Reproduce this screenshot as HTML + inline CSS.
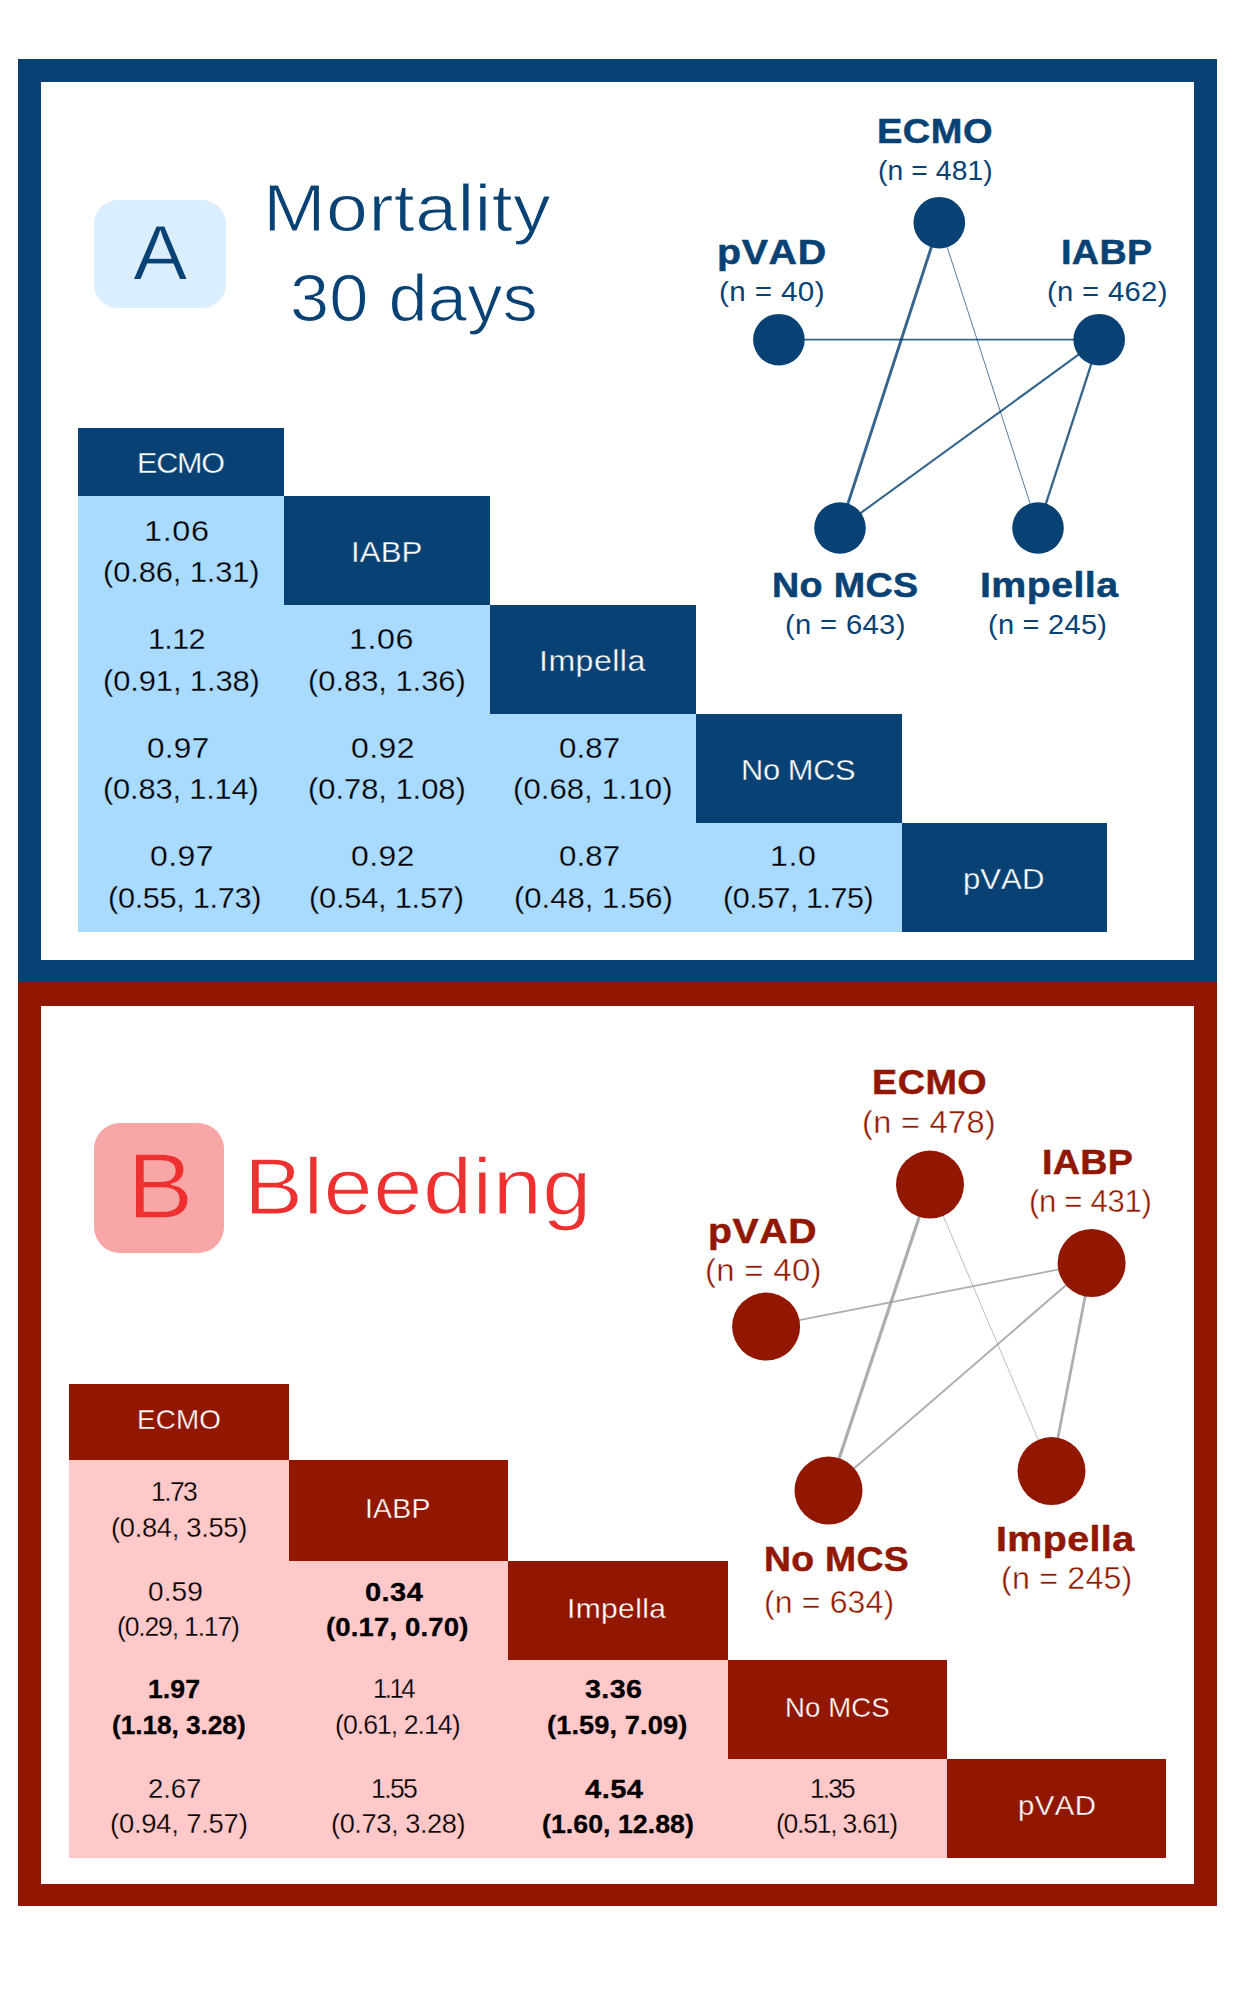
<!DOCTYPE html>
<html lang="en"><head><meta charset="utf-8"><title>Network meta-analysis: mortality and bleeding</title>
<style>
html,body{margin:0;padding:0;background:#fff}
body{width:1235px;height:2000px;position:relative;overflow:hidden;font-family:"Liberation Sans",sans-serif}
.r{position:absolute}
.t{position:absolute;white-space:nowrap;transform-origin:0 0;font-family:"Liberation Sans",sans-serif;font-kerning:none}
svg{position:absolute;left:0;top:0}
</style></head><body>
<!-- panel A frame -->
<div class="r" style="left:18px;top:59px;width:1199.00px;height:923.00px;background:#084274;"></div>
<div class="r" style="left:41px;top:82px;width:1153.00px;height:878.00px;background:#fff;"></div>
<!-- panel B frame -->
<div class="r" style="left:18px;top:982px;width:1199.00px;height:924.00px;background:#911700;"></div>
<div class="r" style="left:41px;top:1006px;width:1153.00px;height:878.00px;background:#fff;"></div>
<div class="r" style="left:94px;top:200px;width:132.00px;height:108.00px;background:#DBEEFE;border-radius:24px"></div>
<div class="r" style="left:94px;top:1123px;width:130.00px;height:130.00px;background:#F9A6A6;border-radius:26px"></div>
<!-- table A -->
<div class="r" style="left:78px;top:496px;width:824.00px;height:436.00px;background:#A9DAFF;"></div>
<div class="r" style="left:78px;top:428px;width:206.00px;height:68.00px;background:#084274;"></div>
<div class="r" style="left:284px;top:496px;width:206.00px;height:109.00px;background:#084274;"></div>
<div class="r" style="left:490px;top:605px;width:206.00px;height:109.00px;background:#084274;"></div>
<div class="r" style="left:696px;top:714px;width:206.00px;height:109.00px;background:#084274;"></div>
<div class="r" style="left:902px;top:823px;width:205.00px;height:109.00px;background:#084274;"></div>
<!-- table B -->
<div class="r" style="left:69px;top:1460px;width:878.00px;height:398.00px;background:#FFC9C9;"></div>
<div class="r" style="left:69px;top:1384px;width:220.00px;height:76.00px;background:#911700;"></div>
<div class="r" style="left:289px;top:1460px;width:219.00px;height:101.00px;background:#911700;"></div>
<div class="r" style="left:508px;top:1561px;width:220.00px;height:99.00px;background:#911700;"></div>
<div class="r" style="left:728px;top:1660px;width:219.00px;height:99.00px;background:#911700;"></div>
<div class="r" style="left:947px;top:1759px;width:219.00px;height:99.00px;background:#911700;"></div>
<div class="r" style="left:490px;top:496px;width:412.00px;height:109.00px;background:#fff;"></div>
<div class="r" style="left:696px;top:605px;width:206.00px;height:109.00px;background:#fff;"></div>
<div class="r" style="left:902px;top:714px;width:0.00px;height:109.00px;background:#fff;"></div>
<div class="r" style="left:508px;top:1460px;width:439.00px;height:101.00px;background:#fff;"></div>
<div class="r" style="left:728px;top:1561px;width:219.00px;height:99.00px;background:#fff;"></div>
<div class="r" style="left:947px;top:1660px;width:0.00px;height:99.00px;background:#fff;"></div>
<!-- network A -->
<svg width="1235" height="2000" viewBox="0 0 1235 2000"><g stroke="#084274" stroke-opacity="0.82" stroke-linecap="butt"><line x1="939.3" y1="222.7" x2="840.0" y2="528.0" stroke-width="2.9"/><line x1="939.3" y1="222.7" x2="1038.0" y2="528.0" stroke-width="0.85"/><line x1="778.9" y1="339.7" x2="1099.2" y2="339.7" stroke-width="1.7"/><line x1="1099.2" y1="339.7" x2="840.0" y2="528.0" stroke-width="2.1"/><line x1="1099.2" y1="339.7" x2="1038.0" y2="528.0" stroke-width="2.3"/></g><g fill="#084274"><circle cx="939.3" cy="222.7" r="25.8"/><circle cx="778.9" cy="339.7" r="25.8"/><circle cx="1099.2" cy="339.7" r="25.8"/><circle cx="840.0" cy="528.0" r="25.8"/><circle cx="1038.0" cy="528.0" r="25.8"/></g></svg>
<!-- network B -->
<svg width="1235" height="2000" viewBox="0 0 1235 2000"><g stroke="#989898" stroke-opacity="0.8" stroke-linecap="butt"><line x1="930.0" y1="1184.6" x2="828.5" y2="1490.5" stroke-width="3.2"/><line x1="930.0" y1="1184.6" x2="1051.5" y2="1471.1" stroke-width="0.8"/><line x1="766.1" y1="1326.6" x2="1091.6" y2="1263.0" stroke-width="1.7"/><line x1="1091.6" y1="1263.0" x2="828.5" y2="1490.5" stroke-width="1.9"/><line x1="1091.6" y1="1263.0" x2="1051.5" y2="1471.1" stroke-width="2.7"/></g><g fill="#911700"><circle cx="930.0" cy="1184.6" r="34.0"/><circle cx="1091.6" cy="1263.0" r="34.0"/><circle cx="766.1" cy="1326.6" r="34.0"/><circle cx="828.5" cy="1490.5" r="34.0"/><circle cx="1051.5" cy="1471.1" r="34.0"/></g></svg>
<div class="t" style="left:132.90px;top:210px;font-size:77.7px;line-height:86px;color:#084274;transform:scaleX(1.0521);-webkit-text-stroke:1.05px #DBEEFE">A</div>
<div class="t" style="left:263.41px;top:170px;font-size:67.5px;line-height:75px;color:#084274;transform:scaleX(1.1155);letter-spacing:0.358px;-webkit-text-stroke:1.1px #fff">Mortality</div>
<div class="t" style="left:290.07px;top:260px;font-size:67.5px;line-height:75px;color:#084274;transform:scaleX(1.0434);letter-spacing:0.178px;-webkit-text-stroke:1.1px #fff">30 days</div>
<div class="t" style="left:876.84px;top:111px;font-size:35.0px;line-height:39px;color:#084274;transform:scaleX(1.0853);letter-spacing:0.468px;font-weight:700;-webkit-text-stroke:0.5px #084274">ECMO</div>
<div class="t" style="left:877.63px;top:155px;font-size:27.7px;line-height:31px;color:#084274;transform:scaleX(1.0198);letter-spacing:0.113px">(n = 481)</div>
<div class="t" style="left:717.47px;top:232px;font-size:35.0px;line-height:39px;color:#084274;transform:scaleX(1.1246);letter-spacing:0.579px;font-weight:700;-webkit-text-stroke:0.5px #084274">pVAD</div>
<div class="t" style="left:719.19px;top:276px;font-size:27.7px;line-height:31px;color:#084274;transform:scaleX(1.0686);letter-spacing:0.365px">(n = 40)</div>
<div class="t" style="left:1060.73px;top:232px;font-size:35.0px;line-height:39px;color:#084274;transform:scaleX(1.0765);letter-spacing:0.335px;font-weight:700;-webkit-text-stroke:0.5px #084274">IABP</div>
<div class="t" style="left:1047.33px;top:276px;font-size:27.7px;line-height:31px;color:#084274;transform:scaleX(1.0557);letter-spacing:0.306px">(n = 462)</div>
<div class="t" style="left:772.38px;top:565px;font-size:35.0px;line-height:39px;color:#084274;transform:scaleX(1.0767);letter-spacing:0.328px;font-weight:700;-webkit-text-stroke:0.5px #084274">No MCS</div>
<div class="t" style="left:785.33px;top:609px;font-size:27.7px;line-height:31px;color:#084274;transform:scaleX(1.0557);letter-spacing:0.306px">(n = 643)</div>
<div class="t" style="left:979.55px;top:565px;font-size:35.0px;line-height:39px;color:#084274;transform:scaleX(1.1229);letter-spacing:0.381px;font-weight:700;-webkit-text-stroke:0.5px #084274">Impella</div>
<div class="t" style="left:987.69px;top:609px;font-size:27.7px;line-height:31px;color:#084274;transform:scaleX(1.0463);letter-spacing:0.257px">(n = 245)</div>
<div class="t" style="left:136.82px;top:445px;font-size:31.0px;line-height:35px;color:#fff;transform-origin:0 28px;transform:scale(0.9834,0.9680);letter-spacing:-1.166px;-webkit-text-stroke:0.35px #084274">ECMO</div>
<div class="t" style="left:350.69px;top:534px;font-size:31.0px;line-height:35px;color:#fff;transform-origin:0 28px;transform:scale(1.0060,0.9680);letter-spacing:0.107px;-webkit-text-stroke:0.35px #084274">IABP</div>
<div class="t" style="left:538.73px;top:643px;font-size:31.0px;line-height:35px;color:#fff;transform-origin:0 28px;transform:scale(1.0351,0.9680);letter-spacing:0.449px;-webkit-text-stroke:0.35px #084274">Impella</div>
<div class="t" style="left:740.76px;top:752px;font-size:31.0px;line-height:35px;color:#fff;transform-origin:0 28px;transform:scale(0.9933,0.9680);letter-spacing:-0.356px;-webkit-text-stroke:0.35px #084274">No MCS</div>
<div class="t" style="left:963.08px;top:861px;font-size:31.0px;line-height:35px;color:#fff;transform-origin:0 28px;transform:scale(1.0026,0.9680);letter-spacing:0.054px;-webkit-text-stroke:0.35px #084274">pVAD</div>
<div class="t" style="left:144.04px;top:513px;font-size:31.0px;line-height:35px;color:#000;transform-origin:0 28px;transform:scale(1.0438,0.9680);letter-spacing:0.648px;-webkit-text-stroke:0.3px #A9DAFF">1.06</div>
<div class="t" style="left:102.92px;top:554px;font-size:31.0px;line-height:35px;color:#000;transform-origin:0 28px;transform:scale(0.9962,0.9680);letter-spacing:-0.127px;-webkit-text-stroke:0.3px #A9DAFF">(0.86, 1.31)</div>
<div class="t" style="left:148.44px;top:621px;font-size:31.0px;line-height:35px;color:#000;transform-origin:0 28px;transform:scale(0.9851,0.9680);letter-spacing:-0.662px;-webkit-text-stroke:0.3px #A9DAFF">1.12</div>
<div class="t" style="left:103.22px;top:663px;font-size:31.0px;line-height:35px;color:#000;transform-origin:0 28px;transform:scale(0.9967,0.9680);letter-spacing:-0.109px;-webkit-text-stroke:0.3px #A9DAFF">(0.91, 1.38)</div>
<div class="t" style="left:349.22px;top:621px;font-size:31.0px;line-height:35px;color:#000;transform-origin:0 28px;transform:scale(1.0390,0.9680);letter-spacing:0.579px;-webkit-text-stroke:0.3px #A9DAFF">1.06</div>
<div class="t" style="left:308.07px;top:663px;font-size:31.0px;line-height:35px;color:#000;transform-origin:0 28px;transform:scale(0.9985,0.9680);letter-spacing:-0.049px;-webkit-text-stroke:0.3px #A9DAFF">(0.83, 1.36)</div>
<div class="t" style="left:146.75px;top:730px;font-size:31.0px;line-height:35px;color:#000;transform-origin:0 28px;transform:scale(1.0170,0.9680);letter-spacing:0.262px;-webkit-text-stroke:0.3px #A9DAFF">0.97</div>
<div class="t" style="left:103.42px;top:771px;font-size:31.0px;line-height:35px;color:#000;transform-origin:0 28px;transform:scale(0.9948,0.9680);letter-spacing:-0.173px;-webkit-text-stroke:0.3px #A9DAFF">(0.83, 1.14)</div>
<div class="t" style="left:351.40px;top:730px;font-size:31.0px;line-height:35px;color:#000;transform-origin:0 28px;transform:scale(1.0288,0.9680);letter-spacing:0.440px;-webkit-text-stroke:0.3px #A9DAFF">0.92</div>
<div class="t" style="left:308.07px;top:771px;font-size:31.0px;line-height:35px;color:#000;transform-origin:0 28px;transform:scale(0.9985,0.9680);letter-spacing:-0.049px;-webkit-text-stroke:0.3px #A9DAFF">(0.78, 1.08)</div>
<div class="t" style="left:558.75px;top:730px;font-size:31.0px;line-height:35px;color:#000;transform-origin:0 28px;transform:scale(1.0076,0.9680);letter-spacing:0.118px;-webkit-text-stroke:0.3px #A9DAFF">0.87</div>
<div class="t" style="left:513.10px;top:771px;font-size:31.0px;line-height:35px;color:#000;transform-origin:0 28px;transform:scale(1.0035,0.9680);letter-spacing:0.040px;-webkit-text-stroke:0.3px #A9DAFF">(0.68, 1.10)</div>
<div class="t" style="left:150.23px;top:838px;font-size:31.0px;line-height:35px;color:#000;transform-origin:0 28px;transform:scale(1.0297,0.9680);letter-spacing:0.452px;-webkit-text-stroke:0.3px #A9DAFF">0.97</div>
<div class="t" style="left:108.41px;top:880px;font-size:31.0px;line-height:35px;color:#000;transform-origin:0 28px;transform:scale(0.9902,0.9680);letter-spacing:-0.326px;-webkit-text-stroke:0.3px #A9DAFF">(0.55, 1.73)</div>
<div class="t" style="left:351.40px;top:838px;font-size:31.0px;line-height:35px;color:#000;transform-origin:0 28px;transform:scale(1.0288,0.9680);letter-spacing:0.440px;-webkit-text-stroke:0.3px #A9DAFF">0.92</div>
<div class="t" style="left:309.25px;top:880px;font-size:31.0px;line-height:35px;color:#000;transform-origin:0 28px;transform:scale(0.9931,0.9680);letter-spacing:-0.229px;-webkit-text-stroke:0.3px #A9DAFF">(0.54, 1.57)</div>
<div class="t" style="left:558.75px;top:838px;font-size:31.0px;line-height:35px;color:#000;transform-origin:0 28px;transform:scale(1.0076,0.9680);letter-spacing:0.118px;-webkit-text-stroke:0.3px #A9DAFF">0.87</div>
<div class="t" style="left:513.76px;top:880px;font-size:31.0px;line-height:35px;color:#000;transform-origin:0 28px;transform:scale(1.0008,0.9680);letter-spacing:0.010px;-webkit-text-stroke:0.3px #A9DAFF">(0.48, 1.56)</div>
<div class="t" style="left:770.26px;top:838px;font-size:31.0px;line-height:35px;color:#000;transform-origin:0 28px;transform:scale(1.0354,0.9680);letter-spacing:0.553px;-webkit-text-stroke:0.3px #A9DAFF">1.0</div>
<div class="t" style="left:723.12px;top:880px;font-size:31.0px;line-height:35px;color:#000;transform-origin:0 28px;transform:scale(0.9848,0.9680);letter-spacing:-0.508px;-webkit-text-stroke:0.3px #A9DAFF">(0.57, 1.75)</div>
<div class="t" style="left:127.27px;top:1134px;font-size:92.7px;line-height:104px;color:#EE3030;transform:scaleX(1.0751);-webkit-text-stroke:1.4px #F9A6A6">B</div>
<div class="t" style="left:243.61px;top:1142px;font-size:80.0px;line-height:89px;color:#EE3030;transform:scaleX(1.1048);letter-spacing:0.451px;-webkit-text-stroke:1.25px #fff">Bleeding</div>
<div class="t" style="left:871.65px;top:1062px;font-size:35.0px;line-height:39px;color:#911700;transform:scaleX(1.0786);letter-spacing:0.433px;font-weight:700;-webkit-text-stroke:0.5px #911700">ECMO</div>
<div class="t" style="left:861.97px;top:1105px;font-size:31.4px;line-height:35px;color:#911700;transform:scaleX(1.0402);letter-spacing:0.254px;-webkit-text-stroke:0.4px #fff">(n = 478)</div>
<div class="t" style="left:1041.79px;top:1142px;font-size:35.0px;line-height:39px;color:#911700;transform:scaleX(1.0752);letter-spacing:0.330px;font-weight:700;-webkit-text-stroke:0.5px #911700">IABP</div>
<div class="t" style="left:1028.79px;top:1184px;font-size:31.4px;line-height:35px;color:#911700;transform:scaleX(0.9912);letter-spacing:-0.316px;-webkit-text-stroke:0.4px #fff">(n = 431)</div>
<div class="t" style="left:708.48px;top:1211px;font-size:35.0px;line-height:39px;color:#911700;transform:scaleX(1.1189);letter-spacing:0.556px;font-weight:700;-webkit-text-stroke:0.5px #911700">pVAD</div>
<div class="t" style="left:705.02px;top:1253px;font-size:31.4px;line-height:35px;color:#911700;transform:scaleX(1.0488);letter-spacing:0.299px;-webkit-text-stroke:0.4px #fff">(n = 40)</div>
<div class="t" style="left:764.37px;top:1539px;font-size:35.0px;line-height:39px;color:#911700;transform:scaleX(1.0662);letter-spacing:0.286px;font-weight:700;-webkit-text-stroke:0.5px #911700">No MCS</div>
<div class="t" style="left:764.01px;top:1585px;font-size:31.4px;line-height:35px;color:#911700;transform:scaleX(1.0202);letter-spacing:0.130px;-webkit-text-stroke:0.4px #fff">(n = 634)</div>
<div class="t" style="left:995.85px;top:1519px;font-size:35.0px;line-height:39px;color:#911700;transform:scaleX(1.1229);letter-spacing:0.381px;font-weight:700;-webkit-text-stroke:0.5px #911700">Impella</div>
<div class="t" style="left:1000.58px;top:1561px;font-size:31.4px;line-height:35px;color:#911700;transform:scaleX(1.0268);letter-spacing:0.172px;-webkit-text-stroke:0.4px #fff">(n = 245)</div>
<div class="t" style="left:136.80px;top:1404px;font-size:27.2px;line-height:31px;color:#fff;transform:scaleX(1.0229);letter-spacing:0.146px;-webkit-text-stroke:0.32px #911700">ECMO</div>
<div class="t" style="left:364.80px;top:1493px;font-size:27.2px;line-height:31px;color:#fff;transform:scaleX(1.0438);letter-spacing:0.203px;-webkit-text-stroke:0.32px #911700">IABP</div>
<div class="t" style="left:566.74px;top:1593px;font-size:27.2px;line-height:31px;color:#fff;transform:scaleX(1.1030);letter-spacing:0.331px;-webkit-text-stroke:0.32px #911700">Impella</div>
<div class="t" style="left:784.62px;top:1692px;font-size:27.2px;line-height:31px;color:#fff;transform:scaleX(1.0149);letter-spacing:0.073px;-webkit-text-stroke:0.32px #911700">No MCS</div>
<div class="t" style="left:1017.59px;top:1790px;font-size:27.2px;line-height:31px;color:#fff;transform:scaleX(1.0806);letter-spacing:0.410px;-webkit-text-stroke:0.32px #911700">pVAD</div>
<div class="t" style="left:150.58px;top:1476px;font-size:27.6px;line-height:31px;color:#000;transform:scaleX(0.9597);letter-spacing:-1.646px;-webkit-text-stroke:0.28px #FFC9C9">1.73</div>
<div class="t" style="left:110.60px;top:1512px;font-size:27.6px;line-height:31px;color:#000;transform:scaleX(0.9897);letter-spacing:-0.306px;-webkit-text-stroke:0.28px #FFC9C9">(0.84, 3.55)</div>
<div class="t" style="left:148.14px;top:1576px;font-size:27.6px;line-height:31px;color:#000;transform:scaleX(1.0159);letter-spacing:0.067px;-webkit-text-stroke:0.28px #FFC9C9">0.59</div>
<div class="t" style="left:117.37px;top:1611px;font-size:27.6px;line-height:31px;color:#000;transform:scaleX(0.9605);letter-spacing:-1.203px;-webkit-text-stroke:0.28px #FFC9C9">(0.29, 1.17)</div>
<div class="t" style="left:365.35px;top:1577px;font-size:26.3px;line-height:30px;color:#000;transform:scaleX(1.1044);letter-spacing:0.394px;font-weight:700;-webkit-text-stroke:0.3px #000">0.34</div>
<div class="t" style="left:326.23px;top:1612px;font-size:26.3px;line-height:30px;color:#000;transform:scaleX(1.0476);letter-spacing:0.136px;font-weight:700;-webkit-text-stroke:0.3px #000">(0.17, 0.70)</div>
<div class="t" style="left:148.22px;top:1674px;font-size:26.3px;line-height:30px;color:#000;transform:scaleX(1.0132);letter-spacing:0.052px;font-weight:700;-webkit-text-stroke:0.3px #000">1.97</div>
<div class="t" style="left:112.06px;top:1710px;font-size:26.3px;line-height:30px;color:#000;transform:scaleX(0.9980);letter-spacing:-0.055px;font-weight:700;-webkit-text-stroke:0.3px #000">(1.18, 3.28)</div>
<div class="t" style="left:372.76px;top:1673px;font-size:27.6px;line-height:31px;color:#000;transform:scaleX(0.9354);letter-spacing:-2.732px;-webkit-text-stroke:0.28px #FFC9C9">1.14</div>
<div class="t" style="left:335.33px;top:1709px;font-size:27.6px;line-height:31px;color:#000;transform:scaleX(0.9664);letter-spacing:-1.017px;-webkit-text-stroke:0.28px #FFC9C9">(0.61, 2.14)</div>
<div class="t" style="left:585.39px;top:1674px;font-size:26.3px;line-height:30px;color:#000;transform:scaleX(1.0898);letter-spacing:0.341px;font-weight:700;-webkit-text-stroke:0.3px #000">3.36</div>
<div class="t" style="left:547.28px;top:1710px;font-size:26.3px;line-height:30px;color:#000;transform:scaleX(1.0344);letter-spacing:0.100px;font-weight:700;-webkit-text-stroke:0.3px #000">(1.59, 7.09)</div>
<div class="t" style="left:148.48px;top:1773px;font-size:27.6px;line-height:31px;color:#000;transform:scaleX(0.9975);letter-spacing:-0.101px;-webkit-text-stroke:0.28px #FFC9C9">2.67</div>
<div class="t" style="left:110.00px;top:1808px;font-size:27.6px;line-height:31px;color:#000;transform:scaleX(0.9927);letter-spacing:-0.214px;-webkit-text-stroke:0.28px #FFC9C9">(0.94, 7.57)</div>
<div class="t" style="left:370.80px;top:1773px;font-size:27.6px;line-height:31px;color:#000;transform:scaleX(0.9595);letter-spacing:-1.657px;-webkit-text-stroke:0.28px #FFC9C9">1.55</div>
<div class="t" style="left:330.54px;top:1808px;font-size:27.6px;line-height:31px;color:#000;transform:scaleX(0.9858);letter-spacing:-0.421px;-webkit-text-stroke:0.28px #FFC9C9">(0.73, 3.28)</div>
<div class="t" style="left:584.64px;top:1774px;font-size:26.3px;line-height:30px;color:#000;transform:scaleX(1.1080);letter-spacing:0.411px;font-weight:700;-webkit-text-stroke:0.3px #000">4.54</div>
<div class="t" style="left:542.18px;top:1809px;font-size:26.3px;line-height:30px;color:#000;transform:scaleX(1.0146);letter-spacing:0.044px;font-weight:700;-webkit-text-stroke:0.3px #000">(1.60, 12.88)</div>
<div class="t" style="left:809.93px;top:1773px;font-size:27.6px;line-height:31px;color:#000;transform:scaleX(0.9536);letter-spacing:-1.910px;-webkit-text-stroke:0.28px #FFC9C9">1.35</div>
<div class="t" style="left:775.96px;top:1808px;font-size:27.6px;line-height:31px;color:#000;transform:scaleX(0.9586);letter-spacing:-1.262px;-webkit-text-stroke:0.28px #FFC9C9">(0.51, 3.61)</div>
</body></html>
